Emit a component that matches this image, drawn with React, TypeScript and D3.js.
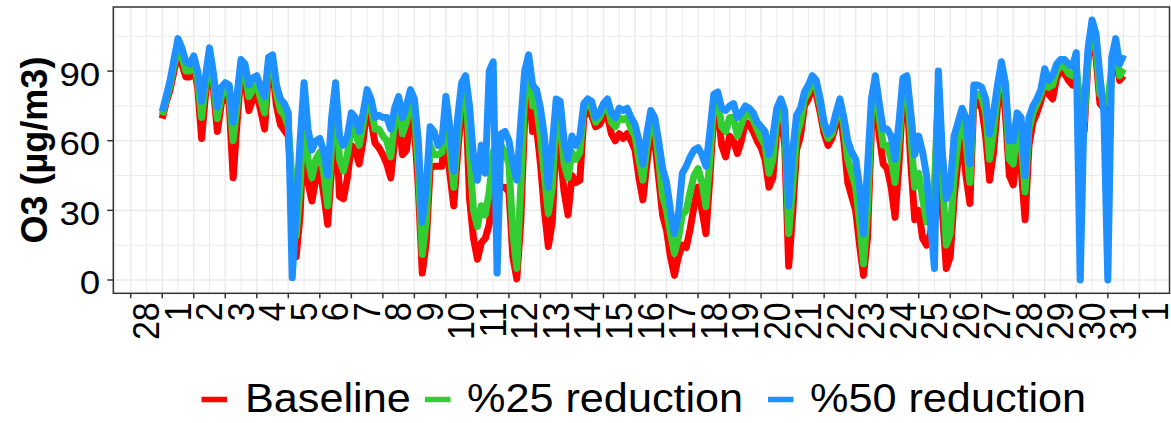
import React from 'react';
import * as d3 from 'd3';

// ---------- DATA ----------
// 3-hourly O3 (µg/m3) from 1 March 00:00 to 31 March 12:00
const startTime = Date.UTC(2019, 2, 1, 0, 0);
const stepHours = 3;

const baseline = [
  69.5, 76.5, 82, 90, 98, 93, 87.5, 87.5, // Mar 1
  92, 83, 61, 80, 94, 82, 64, 76, // Mar 2
  79, 76, 44, 68, 89, 86, 73, 78, // Mar 3
  80, 73, 65, 91, 91, 75, 67, 64.5, // Mar 4
  62, 35, 10, 28, 70, 42, 34, 44, // Mar 5
  48, 37, 24, 48, 72, 36, 35, 44, // Mar 6
  58, 56, 50, 60, 75, 69, 59, 57, // Mar 7
  54, 50, 44, 60, 68, 54, 56, 72, // Mar 8
  66, 40, 3, 16, 48, 49, 49, 49, // Mar 9
  68, 46, 32, 55, 75, 80, 35, 18, // Mar 10
  9, 16, 18, 24, 38, 42, 40, 40, // Mar 11
  38, 10, 0.5, 25, 70, 86, 64, 66, // Mar 12
  50, 30, 14.4, 25, 62, 55, 38, 28, // Mar 13
  45, 42, 43, 70, 73, 71, 66, 67, // Mar 14
  70, 71, 63, 60, 63, 61, 63, 60, // Mar 15
  56, 44, 34.5, 50, 64, 60, 44, 28, // Mar 16
  21.5, 10, 2, 10, 15, 14, 22, 32, // Mar 17
  40, 30, 20, 44, 72, 74, 58, 53, // Mar 18
  62, 60, 54.5, 60, 68, 67, 64, 60, // Mar 19
  57, 52, 40, 44, 65, 72, 58, 6, // Mar 20
  28, 56, 62, 75, 78, 83, 80, 72, // Mar 21
  63, 58, 61, 67, 73, 60, 42, 36, // Mar 22
  30, 15, 2, 18, 65, 80, 62, 50, // Mar 23
  48, 40, 27, 50, 80, 80, 50, 26, // Mar 24
  30, 18, 15, 20, 35, 80, 30, 5, // Mar 25
  10, 35, 52, 62, 45, 33, 78, 76, // Mar 26
  74, 62, 43, 55, 75, 88, 72, 45, // Mar 27
  41, 58, 48, 26, 58, 68, 72, 77, // Mar 28
  84, 80, 78, 87, 90, 89, 86, 84, // Mar 29
  88, 70, 64, 95, 107, 96, 76, 74, // Mar 30
  74, 88, 99, 86, 88, // Mar 31
];

const reduction25 = [
  71, 77.5, 84, 92.5, 100, 96, 90, 90, // Mar 1
  94, 86, 70, 84, 97, 85, 69.5, 79, // Mar 2
  82, 80, 60, 75, 92, 89, 79, 82, // Mar 3
  84, 78, 72, 94, 94, 80, 73, 71, // Mar 4
  66, 42, 19, 40, 78, 52, 44, 52, // Mar 5
  55, 46, 32, 58, 80, 52, 47, 54, // Mar 6
  66, 64, 58, 67, 79, 74, 65, 65, // Mar 7
  62, 60, 53, 68, 74, 63, 68, 78, // Mar 8
  72, 48, 11, 25, 58, 54, 54, 55, // Mar 9
  74, 56, 40, 62, 80, 84, 55, 30, // Mar 10
  23, 32, 28, 38, 55, 60, 58, 55, // Mar 11
  50, 20, 5, 40, 80, 92, 75, 75, // Mar 12
  62, 45, 28.7, 40, 72, 68, 50, 44, // Mar 13
  55, 52, 55, 74, 76, 74, 68, 70, // Mar 14
  74, 75, 68, 66, 70, 69, 70, 65, // Mar 15
  62, 52, 43, 57, 69, 66, 52, 36, // Mar 16
  30, 20, 11.5, 18, 28, 30, 38, 45, // Mar 17
  48, 42, 31.6, 52, 77, 78, 66, 64, // Mar 18
  70, 70, 62, 67, 72, 71, 69, 65, // Mar 19
  61, 58, 46, 52, 70, 75, 66, 20, // Mar 20
  40, 62, 68, 78, 81, 86, 83, 75, // Mar 21
  66, 61, 63, 70, 76, 66, 52, 46, // Mar 22
  40, 25, 7, 30, 72, 85, 70, 58, // Mar 23
  58, 52, 42, 60, 84, 84, 62, 40, // Mar 24
  46, 35, 25, 28, 40, 84, 45, 15, // Mar 25
  20, 45, 60, 70, 60, 42, 81, 80, // Mar 26
  79, 72, 52, 64, 80, 91, 80, 52, // Mar 27
  50, 64, 60, 38, 65, 72, 76, 80, // Mar 28
  86, 83, 84, 90, 92, 92, 89, 88, // Mar 29
  92, 75, 68, 97, 109, 100, 80, 78, // Mar 30
  76, 92, 101, 88, 91, // Mar 31
];

const reduction50 = [
  72.5, 79, 86, 95, 104, 100, 94, 93, // Mar 1
  96.5, 90, 77, 88, 100, 89, 74.5, 83, // Mar 2
  85, 84, 68, 80, 95, 93, 84, 87, // Mar 3
  88, 83, 79, 96, 97, 84, 78, 76, // Mar 4
  72, 1, 30, 60, 85, 65, 56, 60, // Mar 5
  61, 55, 45, 70, 85, 62, 58, 62, // Mar 6
  72, 70, 64, 72, 82, 78, 70, 71, // Mar 7
  70, 70, 65, 74, 79, 70, 75, 82, // Mar 8
  78, 60, 25, 40, 66, 64, 58, 60, // Mar 9
  79, 66, 47, 70, 85, 88, 75, 53, // Mar 10
  43, 58, 46, 90, 94, 3, 63, 64, // Mar 11
  60, 50, 43, 68, 90, 97, 84, 82, // Mar 12
  74, 62, 40, 58, 78, 77, 60, 52, // Mar 13
  62, 58, 62, 76, 78, 77, 70, 72, // Mar 14
  76, 78, 72, 70, 74, 73, 74, 70, // Mar 15
  67, 60, 50, 63, 73, 70, 60, 48, // Mar 16
  42, 30, 20, 28, 46, 49, 53, 56, // Mar 17
  57, 54, 49, 64, 80, 81, 74, 73, // Mar 18
  75, 76, 70, 72, 75, 74, 72, 68, // Mar 19
  66, 64, 54, 62, 74, 78, 73, 32, // Mar 20
  55, 71, 74, 81, 84, 88, 86, 78, // Mar 21
  68, 63, 65, 72, 78, 70, 60, 55, // Mar 22
  52, 40, 20, 48, 78, 88, 76, 65, // Mar 23
  65, 62, 52, 68, 87, 88, 72, 54, // Mar 24
  62, 55, 45, 25, 5, 90, 55, 35, // Mar 25
  40, 62, 68, 74, 70, 50, 84, 84, // Mar 26
  83, 78, 63, 72, 84, 94, 85, 60, // Mar 27
  60, 72, 70, 45, 70, 75, 78, 82, // Mar 28
  91, 86, 88, 93, 95, 95, 93, 92, // Mar 29
  98, 0, 75, 100, 112, 106, 88, 72, // Mar 30
  0, 96, 104, 93, 97, // Mar 31
];

const seriesNames = ['Baseline', '%25 reduction', '%50 reduction'];
const seriesColors = ['#FF0000', '#32CD32', '#1E90FF'];
const seriesValues = [baseline, reduction25, reduction50];

const yTicks = [0, 30, 60, 90];
const yMinorTicks = [15, 45, 75, 105];
const xTickLabels = [
  '28', '1', '2', '3', '4', '5', '6', '7', '8', '9', '10', '11', '12', '13', '14', '15',
  '16', '17', '18', '19', '20', '21', '22', '23', '24', '25', '26', '27', '28', '29', '30', '31', '1',
];
const yTitle = 'O3 (µg/m3)';

// ---------- LAYOUT ----------
const W = 1171;
const H = 423;
const panel = { left: 113.3, right: 1169.5, top: 7, bottom: 293.3 };
const DAY = 864e5;
const firstTickTime = Date.UTC(2019, 1, 28);
const FONT = '"Liberation Sans", Arial, Helvetica, sans-serif';
const SX = 1.08; // horizontal stretch of the reference's text

export default function App() {
  const x = d3
    .scaleUtc()
    .domain([new Date(firstTickTime - 0.552 * DAY), new Date(firstTickTime + 32.957 * DAY)])
    .range([panel.left, panel.right]);
  const y = d3.scaleLinear().domain([-5.73, 117.6]).range([panel.bottom, panel.top]);

  const tickDates = d3.utcDay.range(new Date(firstTickTime), new Date(firstTickTime + 33 * DAY));
  const minorDates = d3.utcHour
    .every(12)!
    .range(x.domain()[0], x.domain()[1])
    .filter((d) => d.getUTCHours() === 12);

  const timeOf = (i: number) => new Date(startTime + i * stepHours * 3600e3);
  const line = d3
    .line<number>()
    .x((_, i) => x(timeOf(i)))
    .y((d) => y(d));

  const legendItems = [
    { key: 201.5, text: 245 },
    { key: 425, text: 467 },
    { key: 768, text: 810 },
  ];

  return (
    <svg
      width={W}
      height={H}
      style={{ position: 'absolute', left: 0, top: 0, background: '#fff' }}
      fontFamily={FONT}
    >
      <rect x={0} y={0} width={W} height={H} fill="#fff" />
      {/* grid */}
      <g>
        {yMinorTicks.map((v) => (
          <line key={'ym' + v} x1={panel.left} x2={panel.right} y1={y(v)} y2={y(v)} stroke="#EBEBEB" strokeWidth={1} />
        ))}
        {minorDates.map((d, i) => (
          <line key={'xm' + i} x1={x(d)} x2={x(d)} y1={panel.top} y2={panel.bottom} stroke="#EBEBEB" strokeWidth={1} />
        ))}
        {yTicks.map((v) => (
          <line key={'y' + v} x1={panel.left} x2={panel.right} y1={y(v)} y2={y(v)} stroke="#EBEBEB" strokeWidth={1.5} />
        ))}
        {tickDates.map((d, i) => (
          <line key={'x' + i} x1={x(d)} x2={x(d)} y1={panel.top} y2={panel.bottom} stroke="#EBEBEB" strokeWidth={1.5} />
        ))}
      </g>
      {/* series */}
      <g>
        {seriesValues.map((vals, si) => (
          <path
            key={seriesNames[si]}
            d={line(vals) || ''}
            fill="none"
            stroke={seriesColors[si]}
            strokeWidth={7}
            strokeLinejoin="round"
            strokeLinecap="butt"
          />
        ))}
      </g>
      {/* panel border */}
      <rect
        x={panel.left}
        y={panel.top}
        width={panel.right - panel.left}
        height={panel.bottom - panel.top}
        fill="none"
        stroke="#333333"
        strokeWidth={1.5}
      />
      {/* y axis */}
      <g>
        {yTicks.map((v) => (
          <g key={'yt' + v}>
            <line x1={panel.left - 6} x2={panel.left} y1={y(v)} y2={y(v)} stroke="#333333" strokeWidth={1.5} />
            <text
              transform={`translate(${panel.left - 13},${y(v) + 14.5}) scale(${SX},1)`}
              textAnchor="end"
              fontSize={34}
              fill="#000"
            >
              {v}
            </text>
          </g>
        ))}
        <text
          transform={`translate(47,150) rotate(-90)`}
          textAnchor="middle"
          fontSize={36}
          fontWeight="bold"
          fill="#000"
        >
          {yTitle}
        </text>
      </g>
      {/* x axis */}
      <g>
        {tickDates.map((d, i) => (
          <g key={'xt' + i}>
            <line x1={x(d)} x2={x(d)} y1={panel.bottom} y2={panel.bottom + 5} stroke="#333333" strokeWidth={1.5} />
            <text
              transform={`translate(${x(d) + 28.5},${panel.bottom + 9}) scale(${SX},1) rotate(-90)`}
              textAnchor="end"
              fontSize={34}
              fill="#000"
            >
              {xTickLabels[i]}
            </text>
          </g>
        ))}
      </g>
      {/* legend */}
      <g>
        {legendItems.map((it, i) => (
          <g key={'lg' + i}>
            <line x1={it.key} x2={it.key + 25.5} y1={399.5} y2={399.5} stroke={seriesColors[i]} strokeWidth={5.5} />
            <text transform={`translate(${it.text},412) scale(${SX},1)`} fontSize={40} fill="#000">
              {seriesNames[i]}
            </text>
          </g>
        ))}
      </g>
    </svg>
  );
}
